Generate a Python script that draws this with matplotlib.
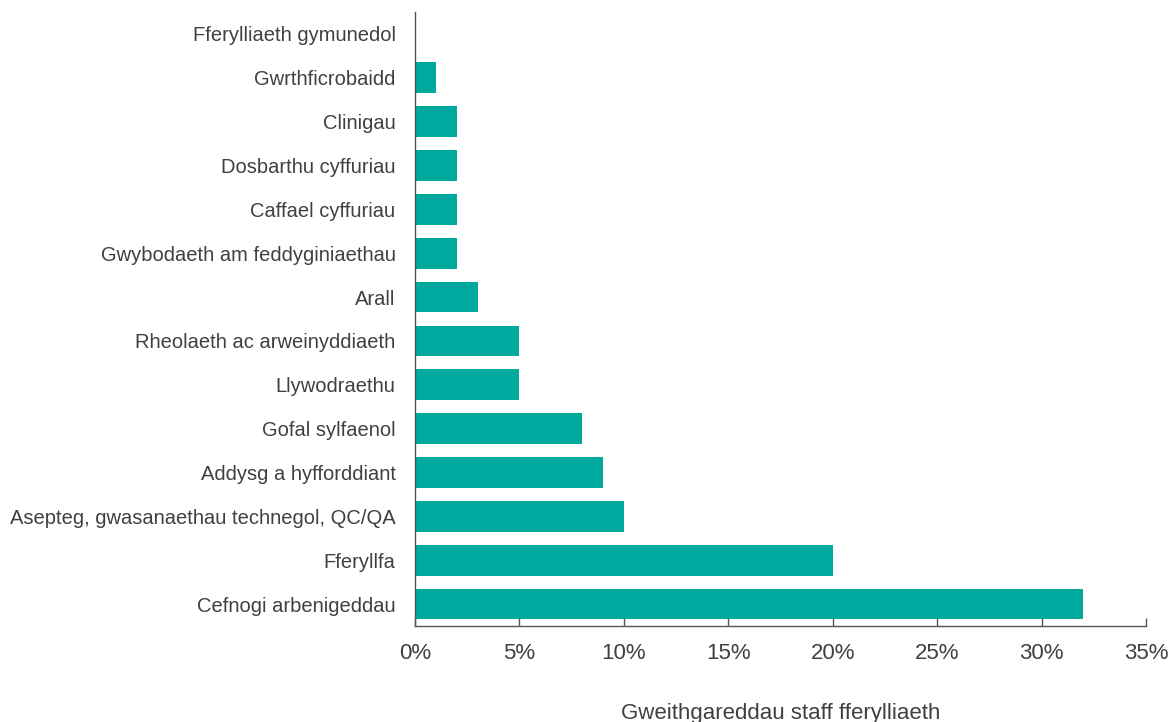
import numpy as np
from matplotlib import pyplot as plt

plt.rcParams['font.family'] = ['Liberation Sans', 'DejaVu Sans']
plt.rcParams['xtick.direction'] = 'in'

# categories top to bottom as in the chart
categories = [
    "Fferylliaeth gymunedol",
    "Gwrthficrobaidd",
    "Clinigau",
    "Dosbarthu cyffuriau",
    "Caffael cyffuriau",
    "Gwybodaeth am feddyginiaethau",
    "Arall",
    "Rheolaeth ac arweinyddiaeth",
    "Llywodraethu",
    "Gofal sylfaenol",
    "Addysg a hyfforddiant",
    "Asepteg, gwasanaethau technegol, QC/QA",
    "Fferyllfa",
    "Cefnogi arbenigeddau",
]
values = [0, 1, 2, 2, 2, 2, 3, 5, 5, 8, 9, 10, 20, 32]
xticks = [0, 5, 10, 15, 20, 25, 30, 35]
xlabel = "Gweithgareddau staff fferylliaeth"

text_col = "#404040"
bar_col = "#00A99D"

fig = plt.figure(figsize=(11.68, 7.22), dpi=100)
ax = fig.add_axes([0.3553, 0.133, 0.6259, 0.8504])

y = np.arange(len(categories))
ax.barh(y, values, height=0.7, color=bar_col)
ax.set_ylim(len(categories) - 0.5, -0.5)
ax.set_xlim(0, 35)

ax.set_yticks(y)
ax.set_yticklabels(categories, fontsize=14.5, color=text_col)
ax.tick_params(axis='y', length=0, pad=14)

ax.set_xticks(xticks)
ax.set_xticklabels([f"{t}%" for t in xticks], fontsize=16, color=text_col)
ax.tick_params(axis='x', direction='in', length=6, width=1, color='#555555', pad=12)
# taller end mark at 35%
ax.set_xticks([35], minor=True)
ax.tick_params(axis='x', which='minor', direction='in', length=15, width=1, color='#555555')

ax.set_xlabel(xlabel, fontsize=16, color=text_col, labelpad=28)

for s in ['top', 'right']:
    ax.spines[s].set_visible(False)
for s in ['left', 'bottom']:
    ax.spines[s].set_color('#555555')
    ax.spines[s].set_linewidth(1)

fig.savefig("out.png", dpi=100)
